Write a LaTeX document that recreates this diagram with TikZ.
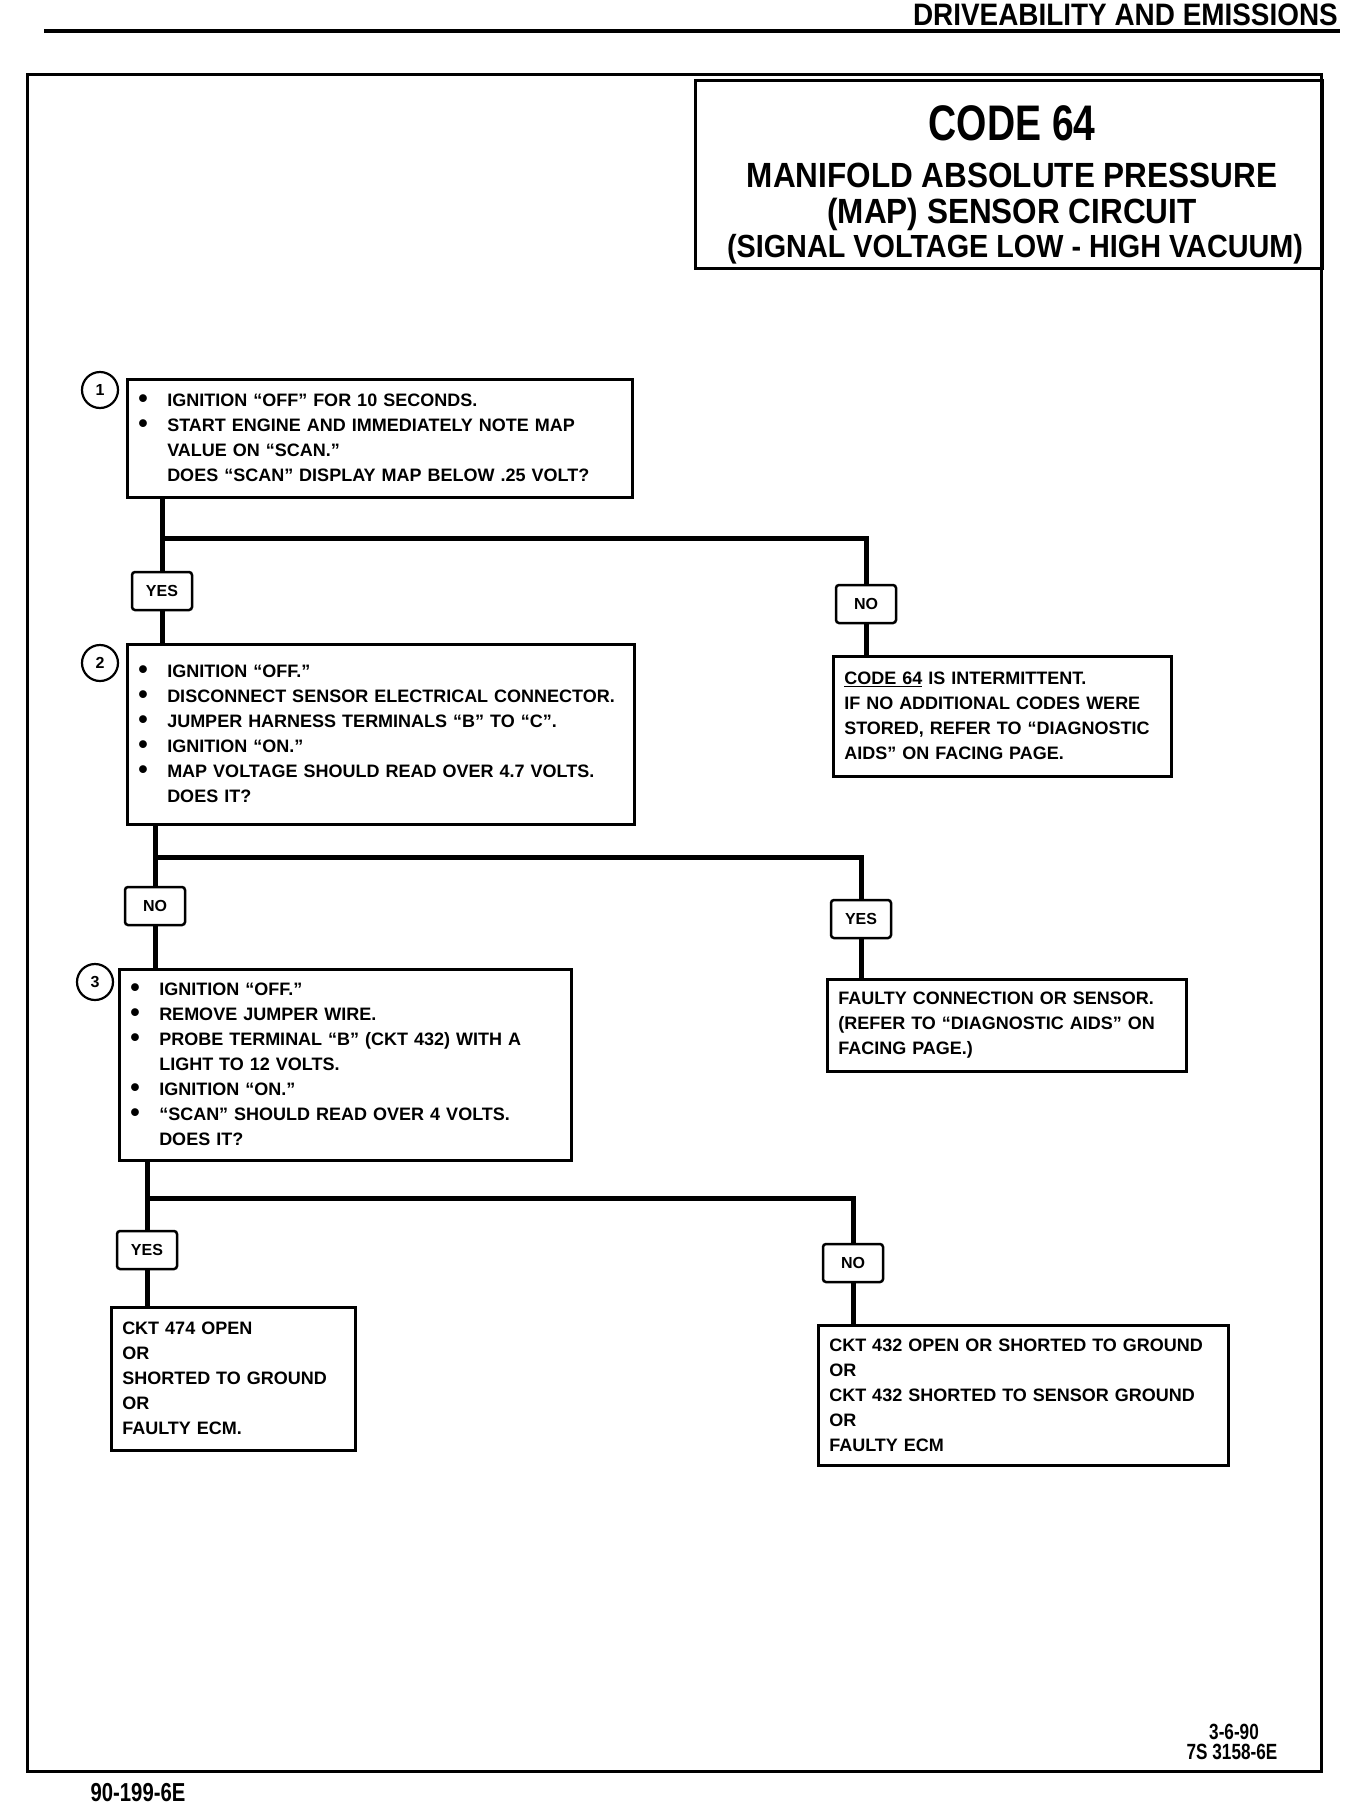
\documentclass[tikz,border=0pt]{standalone}
\usepackage{fontspec}
\setmainfont{Liberation Sans}
\newfontfamily\condfont[FakeStretch=0.78]{Liberation Sans}
\newfontfamily\titlefont[FakeStretch=0.9]{Liberation Sans}
\newcommand{\stepbul}{\makebox[29pt][l]{\raisebox{-1pt}{\scalebox{1.5}{\textbullet}}}}
\newcommand{\stepcont}{\hspace*{29pt}}

\begin{document}
\begin{tikzpicture}[x=1pt, y=-1pt,
  stepbox/.style={draw, line width=2.5pt, anchor=north west, align=left,
    inner xsep=11pt, inner ysep=0pt, font=\fontsize{18}{25}\selectfont\bfseries},
  tag/.style={draw, line width=2.5pt, rounded corners=3pt, inner sep=0pt,
    minimum width=60pt, minimum height=38pt, font=\fontsize{16}{16}\selectfont\bfseries},
  num/.style={draw, circle, line width=2.2pt, minimum size=36pt, inner sep=0pt,
    font=\fontsize{16}{16}\selectfont\bfseries},
  wire/.style={line width=5pt},
  titletext/.style={inner sep=0pt, font={\titlefont\bfseries\fontsize{#1}{#1}\selectfont}},
  smalltext/.style={inner sep=0pt, font={\condfont\bfseries\fontsize{#1}{#1}\selectfont}}]
\useasboundingbox (0,0) rectangle (1344,1804);

% page header and frame
\node[titletext=31, anchor=east] (section) at (1338,15) {DRIVEABILITY AND EMISSIONS};
\draw[line width=3.5pt] (44,31) -- (1340,31);
\draw[line width=3pt] (27,74) rectangle (1321,1771);

% title
\node[draw, line width=2.5pt, anchor=north west, minimum width=627pt, minimum height=188pt] (title) at (694,79) {};
\node[smalltext=50] (code) at (1012,123) {CODE 64};
\node[titletext=35] (title1) at (1012,175) {MANIFOLD ABSOLUTE PRESSURE};
\node[titletext=35] (title2) at (1012,214) {(MAP) SENSOR CIRCUIT};
\node[titletext=32] (title3) at (1015,249) {(SIGNAL VOLTAGE LOW - HIGH VACUUM)};

% step 1
\node[num] (n1) at (100,390) {1};
\node[stepbox, text width=483pt, minimum height=118pt] (box1) at (126,378) {%
\stepbul IGNITION ``OFF'' FOR 10 SECONDS.\\
\stepbul START ENGINE AND IMMEDIATELY NOTE MAP\\
\stepcont VALUE ON ``SCAN.''\\
\stepcont DOES ``SCAN'' DISPLAY MAP BELOW .25 VOLT?};
\node[tag] (yes1) at (162,591) {YES};
\node[tag] (no1) at (866,604) {NO};
\node[stepbox, text width=316pt, minimum height=120pt] (note1) at (832,655) {%
\underline{CODE 64} IS INTERMITTENT.\\
IF NO ADDITIONAL CODES WERE\\
STORED, REFER TO ``DIAGNOSTIC\\
AIDS'' ON FACING PAGE.};
\coordinate (j1) at (162,538);
\draw[wire] (box1.south -| yes1) -- (yes1.north);
\draw[wire] (j1) -| (no1.north);
\draw[wire] (no1.south) -- (no1.south |- note1.north);

% step 2
\node[num] (n2) at (100,663) {2};
\node[stepbox, text width=485pt, minimum height=180pt] (box2) at (126,643) {%
\stepbul IGNITION ``OFF.''\\
\stepbul DISCONNECT SENSOR ELECTRICAL CONNECTOR.\\
\stepbul JUMPER HARNESS TERMINALS ``B'' TO ``C''.\\
\stepbul IGNITION ``ON.''\\
\stepbul MAP VOLTAGE SHOULD READ OVER 4.7 VOLTS.\\
\stepcont DOES IT?};
\draw[wire] (yes1.south) -- (yes1.south |- box2.north);
\node[tag] (no2) at (155,906) {NO};
\node[tag] (yes2) at (861,919) {YES};
\node[stepbox, text width=337pt, minimum height=92pt] (note2) at (826,978) {%
FAULTY CONNECTION OR SENSOR.\\
(REFER TO ``DIAGNOSTIC AIDS'' ON\\
FACING PAGE.)};
\coordinate (j2) at (155,857);
\draw[wire] (box2.south -| no2) -- (no2.north);
\draw[wire] (j2) -| (yes2.north);
\draw[wire] (yes2.south) -- (yes2.south |- note2.north);

% step 3
\node[num] (n3) at (95,982) {3};
\node[stepbox, text width=430pt, minimum height=191pt] (box3) at (118,968) {%
\stepbul IGNITION ``OFF.''\\
\stepbul REMOVE JUMPER WIRE.\\
\stepbul PROBE TERMINAL ``B'' (CKT 432) WITH A\\
\stepcont LIGHT TO 12 VOLTS.\\
\stepbul IGNITION ``ON.''\\
\stepbul ``SCAN'' SHOULD READ OVER 4 VOLTS.\\
\stepcont DOES IT?};
\draw[wire] (no2.south) -- (no2.south |- box3.north);
\node[tag] (yes3) at (147,1250) {YES};
\node[tag] (no3) at (853,1263) {NO};
\coordinate (j3) at (147,1198);
\draw[wire] (box3.south -| yes3) -- (yes3.north);
\draw[wire] (j3) -| (no3.north);

% results
\node[stepbox, text width=222pt, minimum height=143pt] (note3) at (110,1306) {%
CKT 474 OPEN\\
OR\\
SHORTED TO GROUND\\
OR\\
FAULTY ECM.};
\node[stepbox, text width=388pt, minimum height=140pt] (note4) at (817,1324) {%
CKT 432 OPEN OR SHORTED TO GROUND\\
OR\\
CKT 432 SHORTED TO SENSOR GROUND\\
OR\\
FAULTY ECM};
\draw[wire] (yes3.south) -- (yes3.south |- note3.north);
\draw[wire] (no3.south) -- (no3.south |- note4.north);

% footer
\node[smalltext=22] (date) at (1234,1732) {3-6-90};
\node[smalltext=22] (docno) at (1232,1752) {7S 3158-6E};
\node[smalltext=26] (pageno) at (138,1793) {90-199-6E};
\end{tikzpicture}
\end{document}
